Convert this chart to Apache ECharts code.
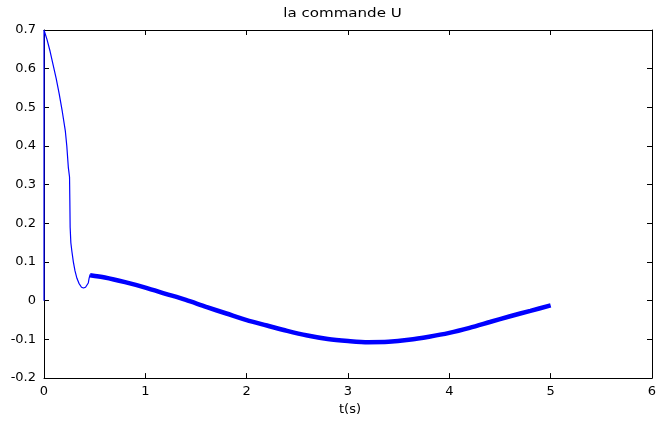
<!DOCTYPE html>
<html>
<head>
<meta charset="utf-8">
<script src="https://cdn.jsdelivr.net/npm/echarts@6/dist/echarts.min.js"></script>
<style>
html,body{margin:0;padding:0;background:#fff;}
#chart{width:669px;height:421px;}
</style>
</head>
<body>
<div id="chart"></div>
<script>
// Transient phase (thin line)
const tTransient = [0, 0, 0.03, 0.06, 0.09, 0.12, 0.15, 0.18, 0.21, 0.225, 0.24, 0.252, 0.255, 0.258, 0.265, 0.275, 0.29, 0.306, 0.325, 0.345, 0.37, 0.39, 0.41, 0.425, 0.437, 0.445, 0.455];
const uTransient = [0, 0.70, 0.675, 0.645, 0.61, 0.575, 0.535, 0.49, 0.44, 0.40, 0.345, 0.32, 0.26, 0.19, 0.15, 0.128, 0.10, 0.077, 0.058, 0.045, 0.035, 0.033, 0.035, 0.040, 0.046, 0.058, 0.068];
// Sliding phase (chattering, thick band)
const tSliding = [0.455, 0.6, 0.8, 1.0, 1.2, 1.4, 1.6, 1.8, 2.0, 2.2, 2.4, 2.6, 2.8, 3.0, 3.2, 3.4, 3.6, 3.8, 4.0, 4.2, 4.4, 4.6, 4.8, 5.0];
const uSliding = [0.066, 0.060, 0.048, 0.034, 0.018, 0.002, -0.016, -0.033, -0.050, -0.064, -0.078, -0.090, -0.099, -0.104, -0.107, -0.106, -0.101, -0.093, -0.083, -0.070, -0.055, -0.040, -0.026, -0.012];
const titleText = 'la commande U';
const xLabel = 't(s)';

const font = '"DejaVu Sans", "Liberation Sans", Arial, sans-serif';
const pairs = (a, b) => a.map((v, i) => [v, b[i]]);
const fmt = v => { const r = Math.round(v * 10) / 10; return r === 0 ? '0' : String(r); };

const chart = echarts.init(document.getElementById('chart'), null, {renderer: 'canvas'});
const axisCommon = {
  axisLine: {show: true, onZero: false, lineStyle: {color: '#000', width: 1}},
  axisTick: {show: true, inside: true, length: 5, lineStyle: {color: '#000'}},
  splitLine: {show: false}
};
chart.setOption({
  animation: false,
  backgroundColor: '#fff',
  graphic: [{
    type: 'text', x: 342.5, y: 14, scaleX: 1.16, silent: true,
    style: {text: titleText, font: '13px ' + font, fill: '#000', textAlign: 'center', textVerticalAlign: 'middle'}
  }],
  grid: {left: 44, right: 17, top: 30, bottom: 40, containLabel: false},
  xAxis: [
    Object.assign({
      type: 'value', min: 0, max: 6, interval: 1, position: 'bottom',
      name: xLabel, nameLocation: 'middle', nameGap: 20,
      nameTextStyle: {fontFamily: font, fontSize: 13, color: '#000', padding: [0, 0, 0, 4]},
      axisLabel: {fontFamily: font, fontSize: 13, color: '#000', margin: 7, formatter: fmt}
    }, axisCommon),
    Object.assign({
      type: 'value', min: 0, max: 6, interval: 1, position: 'top',
      axisLabel: {show: false}
    }, axisCommon)
  ],
  yAxis: [
    Object.assign({
      type: 'value', min: -0.2, max: 0.7, interval: 0.1, position: 'left',
      axisLabel: {fontFamily: font, fontSize: 13, color: '#000', margin: 8, formatter: fmt}
    }, axisCommon),
    Object.assign({
      type: 'value', min: -0.2, max: 0.7, interval: 0.1, position: 'right',
      axisLabel: {show: false}
    }, axisCommon)
  ],
  series: [
    {
      type: 'line', data: pairs(tTransient, uTransient), showSymbol: false,
      lineStyle: {color: '#0000ff', width: 1.2}, z: 3
    },
    {
      type: 'line', data: pairs(tSliding, uSliding), showSymbol: false, smooth: 0.3,
      lineStyle: {color: '#0000ff', width: 4.5}, z: 3
    }
  ]
});
</script>
</body>
</html>
